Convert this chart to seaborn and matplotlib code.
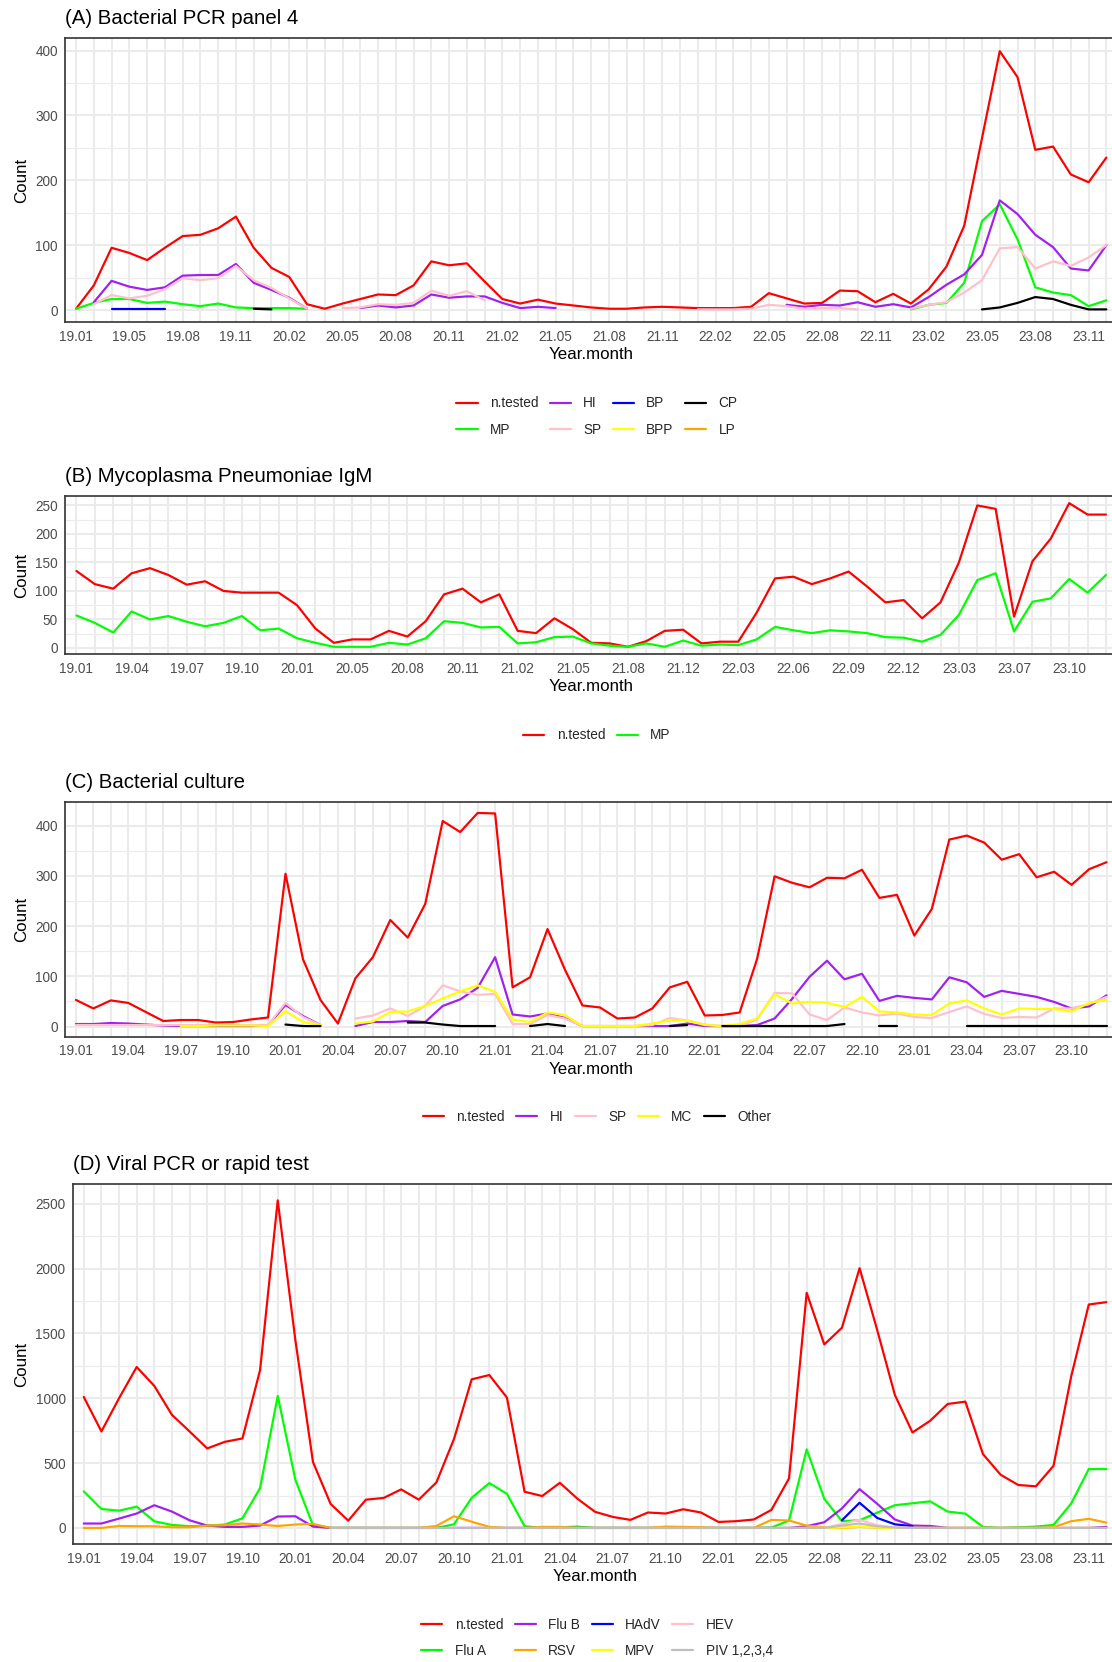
"""Monthly test counts for four lab panels, redrawn with seaborn.

Four stacked line panels (A-D), each with its own legend underneath.
"""

import matplotlib
matplotlib.use("Agg")

import matplotlib.pyplot as plt
from matplotlib.lines import Line2D
from matplotlib.ticker import MultipleLocator
import numpy as np
import pandas as pd
import seaborn as sns

N = np.nan

# ---- categories (year.month); each panel has a few months missing ----
ALL_MONTHS = [f"{y}.{m:02d}" for y in range(19, 24) for m in range(1, 13)]
MONTHS_A = [m for m in ALL_MONTHS if m != "19.02"]
MONTHS_B = [m for m in ALL_MONTHS if m not in ("20.03", "21.09", "23.06")]
MONTHS_C = list(ALL_MONTHS)
MONTHS_D = [m for m in ALL_MONTHS if m != "22.04"]

# ---- (A) Bacterial PCR panel 4 ----
A_NTESTED = [2, 38, 96, 88, 77, 96, 114, 116, 126, 144, 96, 65, 51, 9, 2, 10, 17, 24, 23, 38,
             75, 69, 72, 44, 17, 10, 16, 10, 7, 4, 2, 2, 4, 5, 4, 3, 3, 3, 5, 26,
             18, 10, 11, 30, 29, 12, 25, 10, 32, 67, 130, 265, 399, 359, 247, 252, 209, 197, 235]
A_HI = ([N, 12, 45, 36, 31, 35, 53, 54, 54, 71, 42, 31, 19, 2, N, N,
         3, 7, 4, 7, 24, 19, 21, 21, 11, 3, 5, 3] + [N] * 12 +
        [8, 5, 8, 7, 12, 5, 9, 4, 20, 39, 55, 85, 169, 148, 116, 97, 64, 61, 100])
A_SP = ([N, 9, 23, 18, 22, 32, 49, 46, 49, 68, 46, 34, 18, 2, N,
         3, 4, 9, 8, 11, 30, 22, 29, 15] + [N] * 11 +
        [1, 1, 1, 2, 8, 6, 2, 3, 3, 1, N, N,
         2, 8, 12, 27, 46, 95, 97, 64, 75, 68, 81, 100])
A_MP = ([2, 11, 17, 17, 11, 13, 9, 6, 10, 4, 3, 3, 3, 2] + [N] * 33 +
        [1, 8, 11, 42, 137, 163, 109, 35, 27, 23, 6, 15])
A_BP = [N, N, 1, 1, 1, 1] + [N] * 53
A_CP = [N] * 10 + [2, 1] + [N] * 39 + [1, 4, 11, 20, 17, 8, 1, 1]
A_BPP = [N] * 59
A_LP = [N] * 59

# ---- (B) Mycoplasma Pneumoniae IgM ----
B_NTESTED = [135, 112, 104, 131, 140, 128, 111, 117, 100, 97, 97, 97, 75, 34, 9, 15, 15, 30, 20, 47,
             94, 104, 80, 94, 30, 26, 52, 33, 9, 8, 2, 12, 30, 32, 8, 11, 11, 62, 122, 125,
             112, 122, 134, 108, 80, 84, 52, 80, 150, 250, 244, 55, 152, 192, 254, 234, 234]
B_MP = [57, 44, 27, 64, 50, 56, 46, 38, 44, 56, 31, 34, 17, 9, 2, 2, 2, 9, 6, 17,
        47, 44, 36, 37, 8, 10, 19, 20, 8, 4, 2, 8, 2, 13, 4, 6, 5, 15, 37, 31,
        26, 31, 29, 26, 19, 18, 11, 23, 58, 119, 131, 29, 81, 87, 121, 97, 128]

# ---- (C) Bacterial culture ----
C_NTESTED = [53, 36, 52, 47, 29, 11, 13, 13, 8, 9, 14, 18, 304, 134, 53, 6, 96, 138, 212, 177,
             244, 409, 387, 425, 424, 78, 98, 194, 113, 42, 38, 16, 18, 36, 78, 89, 22, 23, 28, 135,
             299, 286, 277, 296, 295, 312, 256, 262, 181, 234, 372, 380, 366, 332, 343, 297, 308, 282, 313, 327]
C_HI = [5, 5, 7, 6, 4, 2, 1, 1, 1, 1, 1, 2, 43, 21, 3, N,
        1, 9, 9, 11, 9, 41, 54, 77, 138, 24, 20, 26,
        17, 1, 1, 1, 1, 1, 1, 6, 1, 1, 1, 3, 16, 55, 99, 131, 94, 105,
        51, 61, 57, 54, 98, 88, 59, 71, 65, 59, 49, 36, 40, 62]
C_SP = [3, 3, 3, 3, 3, 3, 3, 3, 3, 3, 3, 3, 47, 19, 3, N,
        16, 22, 36, 21, 41, 82, 70, 63, 65, 5, 5, 23,
        16, 1, 1, 1, 1, 3, 17, 12, 4, 1, 2, 14, 67, 66, 24, 13, 38, 28,
        22, 26, 19, 17, 29, 40, 25, 17, 19, 18, 36, 36, 45, 59]
C_MC = ([N] * 6 + [1, 1, 2, 2, 2, 1, 31, 9, 3, N,
                   6, 10, 29, 30, 41, 56, 70, 82, 69, 14, 9, 28,
                   23, 1, 1, 1, 1, 6, 12, 12, 3, 1, 5, 16, 64, 46, 49, 47, 39, 59,
                   30, 28, 24, 23, 46, 52, 36, 24, 36, 35, 35, 30, 47, 53])
C_OTHER = ([N] * 12 + [4, 1, 1] + [N] * 4 + [8, 8, 4, 1, 1, 1] + [N] + [1, 5, 1] + [N] * 5 +
           [1, 3] + [N] + [1, 1, 1, 1, 1, 1, 1, 5] + [N] + [1, 1] + [N] * 3 +
           [1, 1, 1, 1, 1, 1, 1, 1, 1])

# ---- (D) Viral PCR or rapid test ----
D_NTESTED = [1010, 744, 1000, 1241, 1095, 872, 744, 613, 664, 690, 1218, 2526, 1449, 508, 185, 56, 218, 231, 297, 218,
             351, 687, 1146, 1179, 1005, 279, 246, 348, 225, 124, 85, 62, 119, 111, 144, 119, 46, 52, 65, 139,
             382, 1813, 1415, 1544, 2003, 1526, 1026, 736, 826, 956, 974, 569, 410, 331, 321, 479, 1167, 1723, 1741]
D_FLUA = [282, 146, 133, 164, 51, 23, 13, 18, 26, 74, 308, 1018, 372, 20, 0, 0, 0, 0, 0, 0,
          0, 28, 232, 346, 263, 13, 0, 5, 10, 0, 0, 0, 0, 0, 0, 0, 0, 0, 0, 3,
          57, 606, 224, 52, 59, 118, 175, 190, 205, 126, 110, 8, 0, 5, 10, 23, 188, 454, 454]
D_FLUB = [34, 34, 72, 111, 175, 126, 59, 18, 8, 8, 18, 88, 90, 10, 0, 0, 0, 0, 0, 0,
          0, 0, 0, 0, 0, 0, 0, 0, 0, 0, 0, 0, 0, 0, 0, 0, 0, 0, 0, 0,
          0, 13, 44, 150, 299, 186, 65, 18, 15, 0, 0, 0, 0, 0, 0, 0, 0, 0, 8]
D_RSV = [0, 0, 15, 13, 13, 5, 5, 18, 21, 34, 26, 15, 26, 31, 0, 0, 0, 0, 0, 0,
         15, 90, 48, 8, 0, 0, 8, 8, 0, 0, 0, 0, 0, 10, 8, 5, 0, 0, 0, 62,
         57, 18, 5, 0, 8, 3, 0, 0, 0, 0, 0, 0, 0, 0, 0, 5, 52, 70, 41]
D_HADV = [N] * 43 + [59, 194, 77, 28, 13] + [N] * 11
D_MPV = [N] * 39 + [0, 0, 0, 0, 3, 10, 3, 0, 0, 0, 0, 0, 0, 0, 0, 0, 0, 0, 0, 0]
D_HEV = [N] * 41 + [0, 0, 31, 62, 20, 5, 0] + [N] * 11
D_PIV = ([N] * 14 + [0, 0, 0, 0, 0, 0, 0, 0, 0, 0, 0, 0, 0, 0, 0, 0, 0, 0, 0, 0,
                     0, 0, 0, 0, 0, 0, 0, 0, 0, 18, 34, 13, 3, 0, 0, 0, 0, 0, 0,
                     0, 0, 0, 0, 0, 0])

# R colour names used by the original
RED, GREEN, PURPLE, PINK = "#FF0000", "#00FF00", "#A020F0", "#FFC0CB"
BLUE, YELLOW, BLACK, ORANGE, GREY = "#0000FF", "#FFFF00", "#000000", "#FFA500", "#BEBEBE"

W, H, DPI = 1112, 1662, 100
LW = 1.58

PANELS = [
    dict(title="(A) Bacterial PCR panel 4", months=MONTHS_A, box=(65.4, 38.3, 1117, 322.3),
         step=100, legend_y=416.5, ncol=4,
         series=[("n.tested", A_NTESTED, RED), ("MP", A_MP, GREEN), ("HI", A_HI, PURPLE),
                 ("SP", A_SP, PINK), ("BP", A_BP, BLUE), ("BPP", A_BPP, YELLOW),
                 ("CP", A_CP, BLACK), ("LP", A_LP, ORANGE)]),
    dict(title="(B) Mycoplasma Pneumoniae IgM", months=MONTHS_B, box=(65.4, 496, 1117, 654),
         step=50, legend_y=735.5, ncol=2,
         series=[("n.tested", B_NTESTED, RED), ("MP", B_MP, GREEN)]),
    dict(title="(C) Bacterial culture", months=MONTHS_C, box=(65.4, 802.3, 1117, 1036.7),
         step=100, legend_y=1117, ncol=5,
         series=[("n.tested", C_NTESTED, RED), ("HI", C_HI, PURPLE), ("SP", C_SP, PINK),
                 ("MC", C_MC, YELLOW), ("Other", C_OTHER, BLACK)]),
    dict(title="(D) Viral PCR or rapid test", months=MONTHS_D, box=(73.2, 1184, 1117, 1544.3),
         step=500, legend_y=1638, ncol=4,
         series=[("n.tested", D_NTESTED, RED), ("Flu A", D_FLUA, GREEN), ("Flu B", D_FLUB, PURPLE),
                 ("RSV", D_RSV, ORANGE), ("HAdV", D_HADV, BLUE), ("MPV", D_MPV, YELLOW),
                 ("HEV", D_HEV, PINK), ("PIV 1,2,3,4", D_PIV, GREY)]),
]


def to_segments(values):
    """Long table of one series; NaN gaps split it into separate line units."""
    rows, seg, gap = [], 0, True
    for i, v in enumerate(values):
        if np.isnan(v):
            gap = True
            continue
        if gap:
            seg += 1
        gap = False
        rows.append((i, v, seg))
    return pd.DataFrame(rows, columns=["pos", "count", "seg"])


def draw_panel(fig, spec):
    left, top, right, bottom = spec["box"]
    ax = fig.add_axes([left / W, 1 - bottom / H, (right - left) / W, (bottom - top) / H])
    months = spec["months"]
    n = len(months)

    for name, values, color in spec["series"]:
        df = to_segments(values)
        if df.empty:
            continue
        sns.lineplot(data=df, x="pos", y="count", units="seg", estimator=None,
                     color=color, linewidth=LW, sort=False, legend=False, ax=ax)

    allv = np.concatenate([np.asarray(v, dtype=float) for _, v, _ in spec["series"]])
    lo, hi = np.nanmin(allv), np.nanmax(allv)
    pad = 0.05 * (hi - lo)
    ax.set_ylim(lo - pad, hi + pad)
    ax.set_xlim(-0.6, n - 1 + 0.6)

    ax.set_xticks(range(n))
    ax.set_xticklabels([m if i % 3 == 0 else "" for i, m in enumerate(months)])
    ax.yaxis.set_major_locator(MultipleLocator(spec["step"]))
    ax.yaxis.set_minor_locator(MultipleLocator(spec["step"] / 2))

    ax.set_facecolor("white")
    ax.set_axisbelow(True)
    ax.grid(which="major", color="#EBEBEB", linewidth=1.5)
    ax.grid(which="minor", axis="y", color="#EBEBEB", linewidth=0.8)
    for sp in ax.spines.values():
        sp.set_color("#333333")
        sp.set_linewidth(1.2)
    ax.tick_params(which="major", direction="out", length=3.1, width=1.1, color="#333333",
                   labelcolor="#4D4D4D", labelsize=9.8, pad=2.4)
    ax.tick_params(which="minor", length=0)

    hpx = bottom - top
    ax.set_xlabel("Year.month", fontsize=12.2, color="black", va="center")
    ax.xaxis.set_label_coords(0.5, -32.5 / hpx)
    ax.set_ylabel("Count", fontsize=12.2, color="black", va="center")
    ax.yaxis.set_label_coords((21.4 - left) / (right - left), 0.5)

    fig.text(left / W, 1 - (top - 19.5) / H, spec["title"], fontsize=14.7,
             color="black", ha="left", va="center")

    handles = [Line2D([], [], color=c, linewidth=LW) for _, _, c in spec["series"]]
    labels = [name for name, _, _ in spec["series"]]
    fig.legend(handles, labels, loc="center", bbox_to_anchor=(597 / W, 1 - spec["legend_y"] / H),
               ncol=spec["ncol"], frameon=False, fontsize=9.8, handlelength=1.55,
               handletextpad=0.9, columnspacing=0.85, labelspacing=0.9)


def main():
    sns.set_style("white")
    plt.rcParams["font.family"] = ["Liberation Sans", "DejaVu Sans"]

    fig = plt.figure(figsize=(W / DPI, H / DPI), dpi=DPI)
    fig.patch.set_facecolor("white")
    for spec in PANELS:
        draw_panel(fig, spec)

    fig.savefig("out.png", dpi=DPI, facecolor="white")
    plt.close(fig)


if __name__ == "__main__":
    main()
